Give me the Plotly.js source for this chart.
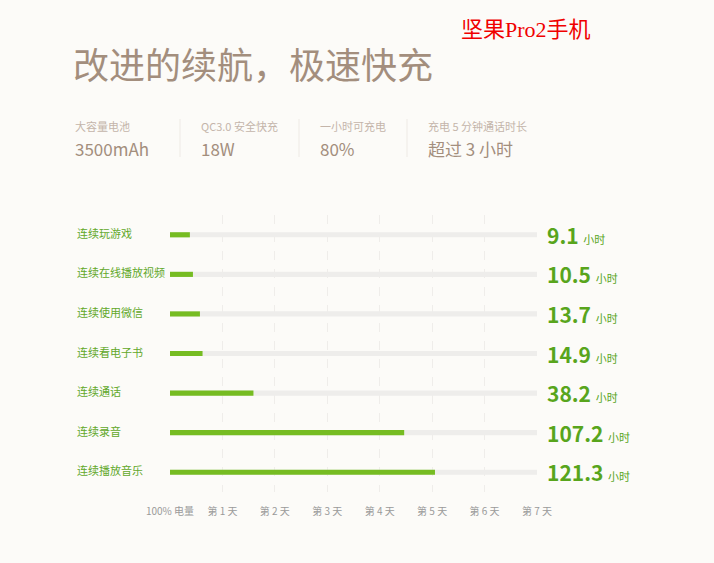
<!DOCTYPE html>
<html>
<head>
<meta charset="utf-8">
<script src="https://cdn.plot.ly/plotly-3.0.1.min.js"></script>
<style>
  html, body { margin: 0; padding: 0; background: #fcfbf8; }
  #chart { width: 714px; height: 563px; }
</style>
</head>
<body>
<div id="chart"></div>
<script>
// usage scenarios, top to bottom
var categories = ['连续玩游戏', '连续在线播放视频', '连续使用微信', '连续看电子书', '连续通话', '连续录音', '连续播放音乐'];
// battery life in hours
var hours = [9.1, 10.5, 13.7, 14.9, 38.2, 107.2, 121.3];
// x ticks: one per day (24 h)
var tickVals = [0, 24, 48, 72, 96, 120, 144, 168];
var tickText = ['100% 电量', '第 1 天', '第 2 天', '第 3 天', '第 4 天', '第 5 天', '第 6 天', '第 7 天'];
// spec row above the chart
var specLabels = ['大容量电池', 'QC3.0 安全快充', '一小时可充电', '充电 5 分钟通话时长'];
var specValues = ['3500mAh', '18W', '80%', '超过 3 小时'];
var specX = [73, 199, 318, 426];

var cjk = '"Noto Sans CJK SC", "Noto Sans", sans-serif';
var fullTrack = categories.map(function() { return tickVals[tickVals.length - 1]; });

// pixel -> paper helpers (plot area is 170..537 x 215..492)
function px(p) { return (p - 170) / 367; }
function py(p) { return 1 + (215 - p) / 277; }

// grey track behind each bar
var trace_track = {
  type: 'bar', orientation: 'h',
  x: fullTrack, y: categories,
  width: 0.13,
  marker: { color: '#eeedeb' },
  hoverinfo: 'none'
};
// green duration bars
var trace_hours = {
  type: 'bar', orientation: 'h',
  x: hours, y: categories,
  width: 0.13,
  marker: { color: '#76bc22' },
  hoverinfo: 'none'
};

var annotations = [];
categories.forEach(function(c, i) {
  // scenario name on the left
  annotations.push({
    xref: 'x domain', yref: 'y', x: -0.259, y: c,
    xanchor: 'left', yanchor: 'middle', yshift: 2,
    text: c, showarrow: false,
    font: { family: cjk, size: 11, color: '#62a82a' }
  });
  // value + unit on the right
  annotations.push({
    xref: 'x', yref: 'y', x: 168, y: c,
    xanchor: 'left', yanchor: 'middle', xshift: 8, yshift: 0,
    text: '<b>' + hours[i] + '</b> <span style="font-size:11px">小时</span>',
    showarrow: false,
    font: { family: cjk, size: 21, color: '#58a51c' }
  });
});

// title + brand label
annotations.push({
  xref: 'paper', yref: 'paper', x: px(71), y: py(63),
  xanchor: 'left', yanchor: 'middle', showarrow: false,
  text: '改进的续航，极速快充',
  font: { family: cjk, size: 36, color: '#a38e7d' }
});
annotations.push({
  xref: 'paper', yref: 'paper', x: px(459), y: py(30),
  xanchor: 'left', yanchor: 'middle', showarrow: false,
  text: '坚果Pro2手机',
  font: { family: '"Liberation Serif", "Noto Sans CJK SC", serif', size: 22, color: '#f00000' }
});

var shapes = [];
specLabels.forEach(function(lbl, i) {
  annotations.push({
    xref: 'paper', yref: 'paper', x: px(specX[i]), y: py(126),
    xanchor: 'left', yanchor: 'middle', showarrow: false,
    text: lbl, font: { family: cjk, size: 11, color: '#c4b5aa' }
  });
  annotations.push({
    xref: 'paper', yref: 'paper', x: px(specX[i]), y: py(148),
    xanchor: 'left', yanchor: 'middle', showarrow: false,
    text: specValues[i], font: { family: cjk, size: 17, color: '#a38e7d' }
  });
  if (i > 0) {
    var sx = px(specX[i] - 19);
    shapes.push({
      type: 'line', xref: 'paper', yref: 'paper',
      x0: sx, x1: sx, y0: py(119), y1: py(157),
      line: { color: '#eeeae5', width: 1 }
    });
  }
});

var layout = {
  width: 714, height: 563,
  margin: { l: 170, r: 177, t: 215, b: 71 },
  paper_bgcolor: '#fcfbf8', plot_bgcolor: 'rgba(0,0,0,0)',
  barmode: 'overlay',
  showlegend: false,
  xaxis: {
    range: [0, 168],
    tickvals: tickVals, ticktext: tickText,
    showgrid: true, gridcolor: '#efedea', griddash: 'dash', gridwidth: 1,
    zeroline: false, showline: false, ticks: '',
    tickfont: { family: cjk, size: 10, color: '#9a9a9a' },
    ticklabelstandoff: 12
  },
  yaxis: {
    type: 'category', autorange: 'reversed',
    showticklabels: false, showgrid: false, zeroline: false, ticks: ''
  },
  annotations: annotations,
  shapes: shapes
};

Plotly.newPlot('chart', [trace_track, trace_hours], layout, { displayModeBar: false, staticPlot: true });
</script>
</body>
</html>
